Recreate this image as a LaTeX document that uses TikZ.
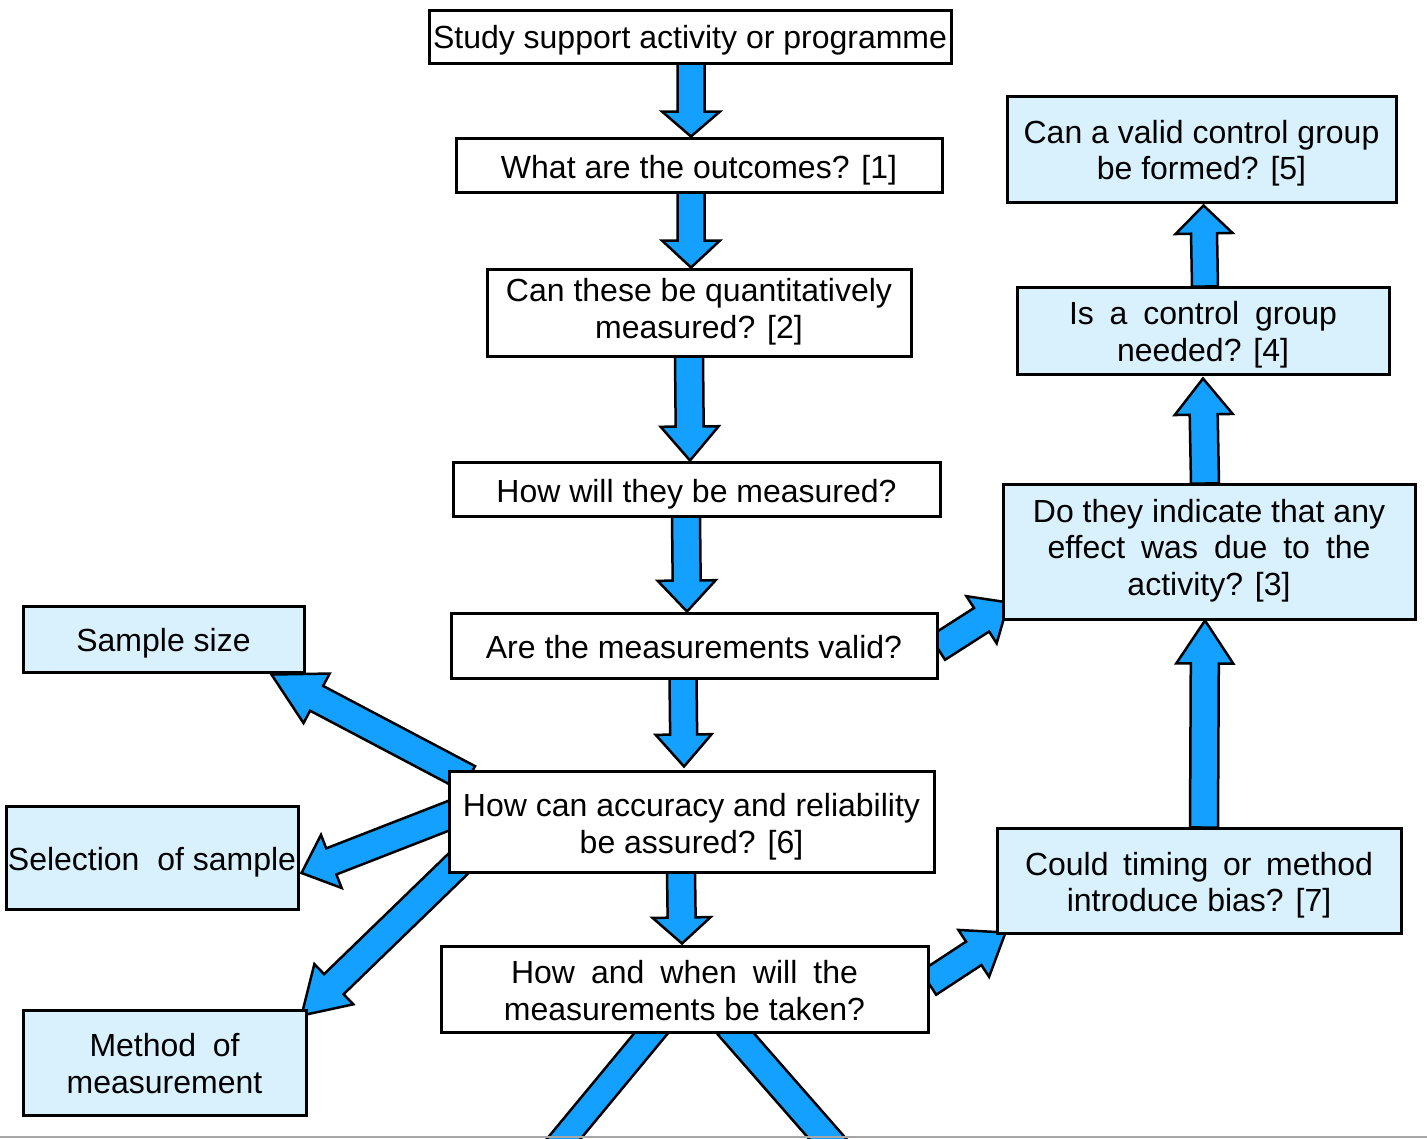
\documentclass[tikz,border=0pt]{standalone}
\usepackage{fontspec}
\setmainfont{Liberation Sans}
\usetikzlibrary{calc,backgrounds}
\definecolor{arrowblue}{RGB}{20,160,255}
\definecolor{paleblue}{RGB}{217,240,253}
% block arrow: start, tip, shaft half width, head half width, head length
\newcommand\blockarr[5]{%
  \coordinate (ba-s) at (#1);
  \coordinate (ba-t) at (#2);
  \coordinate (ba-h) at ($(ba-t)!#5!(ba-s)$);
  \draw[barrow] ($(ba-s)!#3!90:(ba-t)$) -- ($(ba-h)!#3!90:(ba-t)$) -- ($(ba-h)!#4!90:(ba-t)$)
    -- (ba-t) -- ($(ba-h)!#4!-90:(ba-t)$) -- ($(ba-h)!#3!-90:(ba-t)$) -- ($(ba-s)!#3!-90:(ba-t)$) -- cycle;
}
\newcommand\shaftonly[3]{%
  \coordinate (ba-s) at (#1);
  \coordinate (ba-t) at (#2);
  \draw[barrow] ($(ba-s)!#3!90:(ba-t)$) -- ($(ba-t)!#3!-90:(ba-s)$) -- ($(ba-t)!#3!90:(ba-s)$)
    -- ($(ba-s)!#3!-90:(ba-t)$) -- cycle;
}
% text block lowered by #1 pt inside its box
\newcommand\btext[2]{\raisebox{-#1pt}[\height][\depth]{\begin{tabular}{@{}c@{}}#2\end{tabular}}}
\tikzset{
  whitebox/.style={draw=black, line width=3pt, fill=white, inner sep=0pt},
  bluebox/.style={whitebox, fill=paleblue},
  barrow/.style={draw=black, line width=2.5pt, fill=arrowblue, line join=miter}
}
\begin{document}
\begin{tikzpicture}[x=1pt, y=-1pt, font=\fontsize{32}{36.5}\selectfont]
\useasboundingbox (0,0) rectangle (1427,1138);
% central column
\node[whitebox, minimum width=522pt, minimum height=53pt] (n1) at (690,36.5) {\btext{5}{Study support activity or programme}};
\node[whitebox, minimum width=486pt, minimum height=54pt] (n2) at (699,165) {\btext{6}{What are the outcomes? [1]}};
\node[whitebox, minimum width=424pt, minimum height=87pt] (n3) at (699,312.5) {\btext{0}{Can these be quantitatively\\measured? [2]}};
\node[whitebox, minimum width=487pt, minimum height=54pt] (n4) at (696.5,489) {\btext{6}{How will they be measured?}};
\node[whitebox, minimum width=486pt, minimum height=65pt] (n5) at (694,645.5) {\btext{6}{Are the measurements valid?}};
\node[whitebox, minimum width=485pt, minimum height=101pt] (n6) at (691.5,821.5) {\btext{6}{How can accuracy and reliability\\be assured? [6]}};
\node[whitebox, minimum width=487pt, minimum height=86pt] (n7) at (684.5,989) {\btext{5.5}{\makebox[347pt][s]{How and when will the}\\measurements be taken?}};
% right column
\node[bluebox, minimum width=389pt, minimum height=106pt] (r5) at (1201.5,149) {\btext{5}{Can a valid control group\\be formed? [5]}};
\node[bluebox, minimum width=372pt, minimum height=87pt] (r4) at (1203,330.5) {\btext{5}{\makebox[268pt][s]{Is a control group}\\needed? [4]}};
\node[bluebox, minimum width=412pt, minimum height=135pt] (r3) at (1209,551.5) {\btext{0}{Do they indicate that any\\\makebox[323pt][s]{effect was due to the}\\activity? [3]}};
\node[bluebox, minimum width=404pt, minimum height=105pt] (r7) at (1199,880.5) {\btext{5.5}{\makebox[348pt][s]{Could timing or method}\\introduce bias? [7]}};
% left column
\node[bluebox, minimum width=281pt, minimum height=66pt] (l1) at (163.5,639) {\btext{5}{Sample size}};
\node[bluebox, minimum width=292pt, minimum height=103pt] (l2) at (152,857.5) {\btext{6}{Selection\ \ of sample}};
\node[bluebox, minimum width=283pt, minimum height=105pt] (l3) at (164.5,1062.5) {\btext{5}{\makebox[150pt][s]{Method of}\\measurement}};

\begin{pgfonlayer}{background}
  \clip (0,0) rectangle (1427,1138);
  \fill[white] (0,0) rectangle (1427,1138);
  % central downward arrows
  \blockarr{$(n1.south)+(1,-1)$}{$(n2.north)+(-8,0)$}{13.5pt}{29pt}{25pt}
  \blockarr{$(n2.south)+(-8,-1)$}{$(n3.north)+(-8,0)$}{13.5pt}{29pt}{27pt}
  \blockarr{$(n3.south)+(-10,-1)$}{$(n4.north)+(-6.5,0)$}{14pt}{29pt}{34pt}
  \blockarr{$(n4.south)+(-10.5,-1)$}{$(n5.north)+(-7,0)$}{14pt}{29pt}{31pt}
  \blockarr{$(n5.south)+(-11,-1)$}{$(n6.north)+(-7.5,-3)$}{13.5pt}{28pt}{32pt}
  \blockarr{$(n6.south)+(-10.5,-1)$}{$(n7.north)+(-2.5,-1)$}{14pt}{29pt}{26pt}
  % to the right column
  \blockarr{$(n5.east)+(-1,2.5)$}{$(r3.south west)+(7,-18)$}{14pt}{28pt}{32pt}
  \blockarr{$(n7.east)+(-1,-6)$}{$(r7.south west)+(10,-2)$}{14pt}{28pt}{38pt}
  % right column upward arrows
  \blockarr{$(r7.north)+(5,1)$}{$(r3.south)+(-4,0)$}{14pt}{28.5pt}{43pt}
  \blockarr{$(r3.north)+(-4,1)$}{$(r4.south)+(0,3)$}{14pt}{29pt}{36pt}
  \blockarr{$(r4.north)+(2,1)$}{$(r5.south)+(2,2)$}{13pt}{28.5pt}{28pt}
  % left arrows
  \blockarr{$(n6.north west)+(21,9)$}{$(l1.south east)+(-34,1)$}{14pt}{28pt}{51pt}
  \blockarr{$(n6.west)+(21,-13.5)$}{$(l2.east)+(2,15.5)$}{14pt}{28.5pt}{32pt}
  \blockarr{$(n6.west)+(31,22.5)$}{$(l3.north east)+(-6,7)$}{14pt}{28pt}{45pt}
  % arrows leaving the page at the bottom
  \shaftonly{$(n7.south)+(-27,-8)$}{$(n7.south)+(-139.5,128)$}{13pt}
  \shaftonly{$(n7.south)+(44,-8)$}{$(n7.south)+(163,128)$}{14pt}
\end{pgfonlayer}
\draw[gray!70, line width=1.5pt] (0,1137) -- (1427,1137);
\end{tikzpicture}
\end{document}
